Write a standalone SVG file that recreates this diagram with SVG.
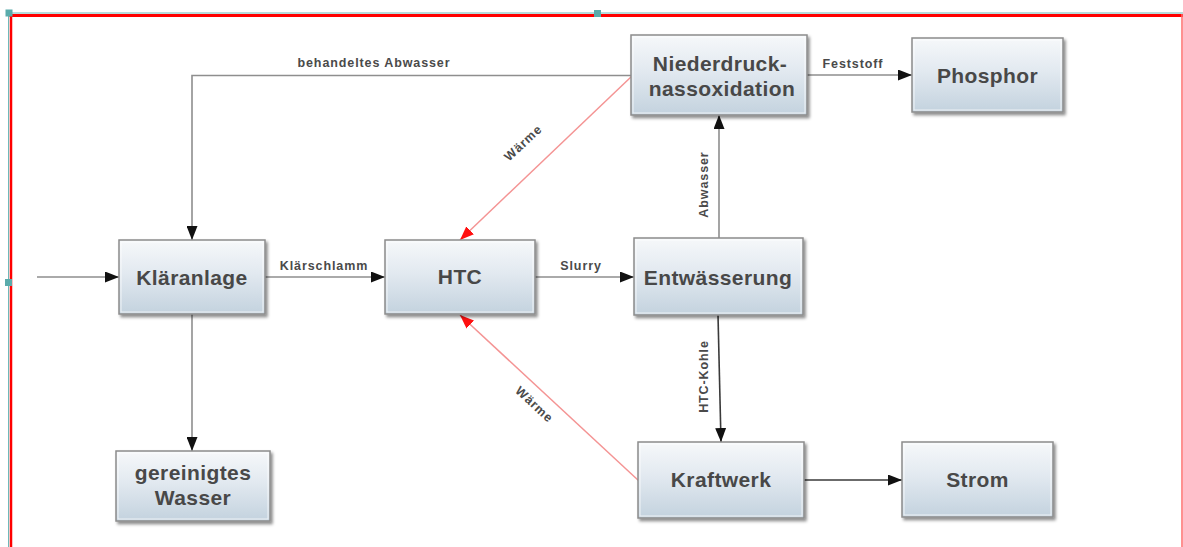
<svg xmlns="http://www.w3.org/2000/svg" width="1183" height="547" viewBox="0 0 1183 547">
  <defs>
    <linearGradient id="boxFill" x1="0" y1="0" x2="0" y2="1">
      <stop offset="0" stop-color="#f6f8fa"/>
      <stop offset="0.45" stop-color="#e2e9f0"/>
      <stop offset="1" stop-color="#c3d2de"/>
    </linearGradient>
    <filter id="shadow" x="-10%" y="-10%" width="125%" height="130%">
      <feDropShadow dx="2" dy="2.5" stdDeviation="1.5" flood-color="#000" flood-opacity="0.45"/>
    </filter>
    <marker id="arrow" viewBox="0 0 14 11" refX="14" refY="5.5" markerWidth="14" markerHeight="11" markerUnits="userSpaceOnUse" orient="auto">
      <path d="M0,0 L14,5.5 L0,11 Z" fill="#111"/>
    </marker>
    <marker id="arrowRed" viewBox="0 0 14 11" refX="14" refY="5.5" markerWidth="14" markerHeight="11" markerUnits="userSpaceOnUse" orient="auto">
      <path d="M0,0 L14,5.5 L0,11 Z" fill="#ff1010"/>
    </marker>
  </defs>
  <style>
    .box { fill: url(#boxFill); stroke: #8c8c8c; stroke-width: 1.5; filter: url(#shadow); }
    .inner { fill: none; stroke: #ffffff; stroke-opacity: 0.7; stroke-width: 1; }
    .ntext { font-family: "Liberation Sans", Arial, sans-serif; font-weight: bold; font-size: 21px; fill: #484848; text-anchor: middle; letter-spacing: 0.4px; }
    .flow { fill: none; stroke: #8e8e8e; stroke-width: 1.6; marker-end: url(#arrow); }
    .dark { stroke: #3a3a3a; }
    .heat { fill: none; stroke: #f49494; stroke-width: 1.5; marker-end: url(#arrowRed); }
    .elabel { font-family: "Liberation Sans", Arial, sans-serif; font-weight: bold; font-size: 12.5px; fill: #4a4a4a; text-anchor: middle; letter-spacing: 0.9px; }
    .handle { fill: #5aabab; }
  </style>

  <rect x="0" y="0" width="1183" height="547" fill="#ffffff"/>

  <!-- page frame -->
  <g id="frame">
    <line x1="8" y1="13" x2="1183" y2="13" stroke="#6fb8b8" stroke-width="1.2"/>
    <line x1="8.5" y1="13" x2="8.5" y2="547" stroke="#6fb8b8" stroke-width="1"/>
    <line x1="9.5" y1="15.5" x2="1183" y2="15.5" stroke="#ff0000" stroke-width="3"/>
    <line x1="11" y1="14" x2="11" y2="547" stroke="#ff0000" stroke-width="2.5"/>
    <line x1="1182" y1="14" x2="1182" y2="547" stroke="#ff6b6b" stroke-width="1.5"/>
    <rect class="handle" x="5.5" y="9.5" width="7" height="7"/>
    <rect class="handle" x="594" y="10" width="7" height="7"/>
    <rect class="handle" x="5" y="279" width="7" height="7"/>
  </g>

  <!-- connectors -->
  <g id="connectors">
    <line class="flow" x1="37" y1="277" x2="119" y2="277"/>
    <line class="flow" x1="265" y1="277" x2="385" y2="277"/>
    <line class="flow" x1="535" y1="277" x2="634" y2="277"/>
    <line class="flow" x1="719" y1="238" x2="719" y2="115"/>
    <line class="flow dark" x1="718" y1="315" x2="721" y2="442"/>
    <line class="flow" x1="807" y1="75" x2="912" y2="75"/>
    <polyline class="flow" points="631,75.5 192,75.5 192,240"/>
    <line class="flow" x1="192" y1="314" x2="192" y2="451"/>
    <line class="flow dark" x1="804" y1="480" x2="902" y2="480"/>
    <line class="heat" x1="632" y1="76" x2="460" y2="240"/>
    <line class="heat" x1="639" y1="481" x2="460" y2="315"/>

    <text class="elabel" x="374" y="67">behandeltes Abwasser</text>
    <text class="elabel" x="324" y="270">Klärschlamm</text>
    <text class="elabel" x="581" y="270">Slurry</text>
    <text class="elabel" x="853" y="68">Feststoff</text>
    <text class="elabel" transform="translate(707.5,184.5) rotate(-90)">Abwasser</text>
    <text class="elabel" transform="translate(707.5,376.5) rotate(-90)">HTC-Kohle</text>
    <text class="elabel" transform="translate(526,146) rotate(-43)">Wärme</text>
    <text class="elabel" transform="translate(531.5,407.5) rotate(43)">Wärme</text>
  </g>

  <!-- process nodes -->
  <g id="klaeranlage">
    <rect class="box" x="119" y="240" width="146" height="74"/>
    <rect class="inner" x="121" y="242" width="142" height="70"/>
    <text class="ntext" x="192" y="284.5">Kläranlage</text>
  </g>

  <g id="htc">
    <rect class="box" x="385" y="240" width="150" height="74"/>
    <rect class="inner" x="387" y="242" width="146" height="70"/>
    <text class="ntext" x="460" y="284">HTC</text>
  </g>

  <g id="entwaesserung">
    <rect class="box" x="634" y="238" width="169" height="77"/>
    <rect class="inner" x="636" y="240" width="165" height="73"/>
    <text class="ntext" x="718" y="284.5">Entwässerung</text>
  </g>

  <g id="niederdruck">
    <rect class="box" x="631" y="35" width="176" height="80"/>
    <rect class="inner" x="633" y="37" width="172" height="76"/>
    <text class="ntext" x="720" y="70.5">Niederdruck-</text>
    <text class="ntext" x="722" y="96">nassoxidation</text>
  </g>

  <g id="phosphor">
    <rect class="box" x="912" y="38" width="151" height="74"/>
    <rect class="inner" x="914" y="40" width="147" height="70"/>
    <text class="ntext" x="987.5" y="82.5">Phosphor</text>
  </g>

  <g id="kraftwerk">
    <rect class="box" x="638" y="442" width="166" height="76"/>
    <rect class="inner" x="640" y="444" width="162" height="72"/>
    <text class="ntext" x="721" y="487">Kraftwerk</text>
  </g>

  <g id="strom">
    <rect class="box" x="902" y="442" width="151" height="75"/>
    <rect class="inner" x="904" y="444" width="147" height="71"/>
    <text class="ntext" x="977.5" y="487">Strom</text>
  </g>

  <g id="gereinigtes-wasser">
    <rect class="box" x="116" y="451" width="154" height="70"/>
    <rect class="inner" x="118" y="453" width="150" height="66"/>
    <text class="ntext" x="193" y="480">gereinigtes</text>
    <text class="ntext" x="193" y="505">Wasser</text>
  </g>
</svg>
